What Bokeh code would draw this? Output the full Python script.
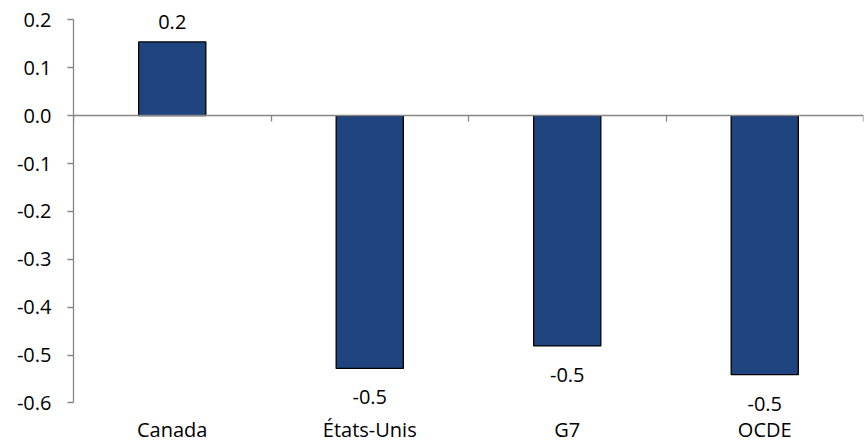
from bokeh.plotting import figure
from bokeh.models import (ColumnDataSource, LinearAxis, FixedTicker, NumeralTickFormatter)
from bokeh.core.properties import value
from bokeh.embed import file_html
from bokeh.resources import INLINE

categories = ["Canada", "États-Unis", "G7", "OCDE"]
values = [0.154, -0.528, -0.481, -0.541]
y_ticks = [-0.6, -0.5, -0.4, -0.3, -0.2, -0.1, 0.0, 0.1, 0.2]

FONT = "Open Sans"
FS = "20px"
AXIS_COLOR = "#868686"
BAR_COLOR = "#1F4480"

xs = [i + 0.5 for i in range(len(categories))]
labels = [f"{v:.1f}" for v in values]

p = figure(width=864, height=445, x_range=(0, len(categories)), y_range=(-0.62, 0.23),
           output_backend="svg", toolbar_location=None, x_axis_location=None,
           y_axis_location=None)
p.min_border_left = 73
p.min_border_right = 1
p.min_border_top = 5
p.min_border_bottom = 33
p.outline_line_color = None
p.xgrid.visible = False
p.ygrid.visible = False
p.background_fill_color = "white"
p.border_fill_color = "white"

src = ColumnDataSource(dict(x=xs, top=values, label=labels, cat=categories))
p.vbar(x="x", top="top", bottom=0, width=0.34, source=src,
       fill_color=BAR_COLOR, line_color="black", line_width=1.3)

pos = [i for i, v in enumerate(values) if v >= 0]
neg = [i for i, v in enumerate(values) if v < 0]
src_pos = ColumnDataSource(dict(x=[xs[i] for i in pos], y=[values[i] for i in pos],
                                label=[labels[i] for i in pos]))
src_neg = ColumnDataSource(dict(x=[xs[i] for i in neg], y=[values[i] for i in neg],
                                label=[labels[i] for i in neg]))
p.text(x="x", y="y", text="label", source=src_pos, text_align="center",
       text_baseline="bottom", y_offset=-13, text_font=value(FONT),
       text_font_size=FS, text_color="black")
p.text(x="x", y="y", text="label", source=src_neg, text_align="center",
       text_baseline="top", y_offset=22, text_font=value(FONT),
       text_font_size=FS, text_color="black")

# y axis
yaxis = LinearAxis(ticker=FixedTicker(ticks=y_ticks), bounds=(-0.6, 0.2),
                   formatter=NumeralTickFormatter(format="0.0"))
yaxis.axis_line_color = AXIS_COLOR
yaxis.axis_line_width = 1.3
yaxis.major_tick_line_color = AXIS_COLOR
yaxis.major_tick_line_width = 1.3
yaxis.major_tick_out = 6
yaxis.major_tick_in = 0
yaxis.minor_tick_line_color = None
yaxis.major_label_standoff = 16
yaxis.major_label_text_font = FONT
yaxis.major_label_text_font_size = FS
yaxis.major_label_text_color = "black"
p.add_layout(yaxis, "left")

# category labels at bottom
xaxis = LinearAxis(ticker=FixedTicker(ticks=xs),
                   major_label_overrides={x: c for x, c in zip(xs, categories)})
xaxis.axis_line_color = None
xaxis.major_tick_line_color = None
xaxis.minor_tick_line_color = None
xaxis.major_tick_out = 0
xaxis.major_tick_in = 0
xaxis.major_label_standoff = 3
xaxis.major_label_text_font = FONT
xaxis.major_label_text_font_size = FS
xaxis.major_label_text_color = "black"
p.add_layout(xaxis, "below")

# zero line axis with category boundary ticks (drawn downward into the plot)
zaxis = LinearAxis(ticker=FixedTicker(ticks=list(range(len(categories) + 1))),
                   fixed_location=0)
zaxis.axis_line_color = AXIS_COLOR
zaxis.axis_line_width = 1.3
zaxis.major_tick_line_color = AXIS_COLOR
zaxis.major_tick_line_width = 1.3
zaxis.major_tick_out = 0
zaxis.major_tick_in = 6
zaxis.minor_tick_line_color = None
zaxis.major_label_standoff = 0
zaxis.major_label_text_font_size = "0px"
zaxis.major_label_text_color = None
p.add_layout(zaxis, "above")

open("out.html", "w").write(file_html(p, INLINE))
